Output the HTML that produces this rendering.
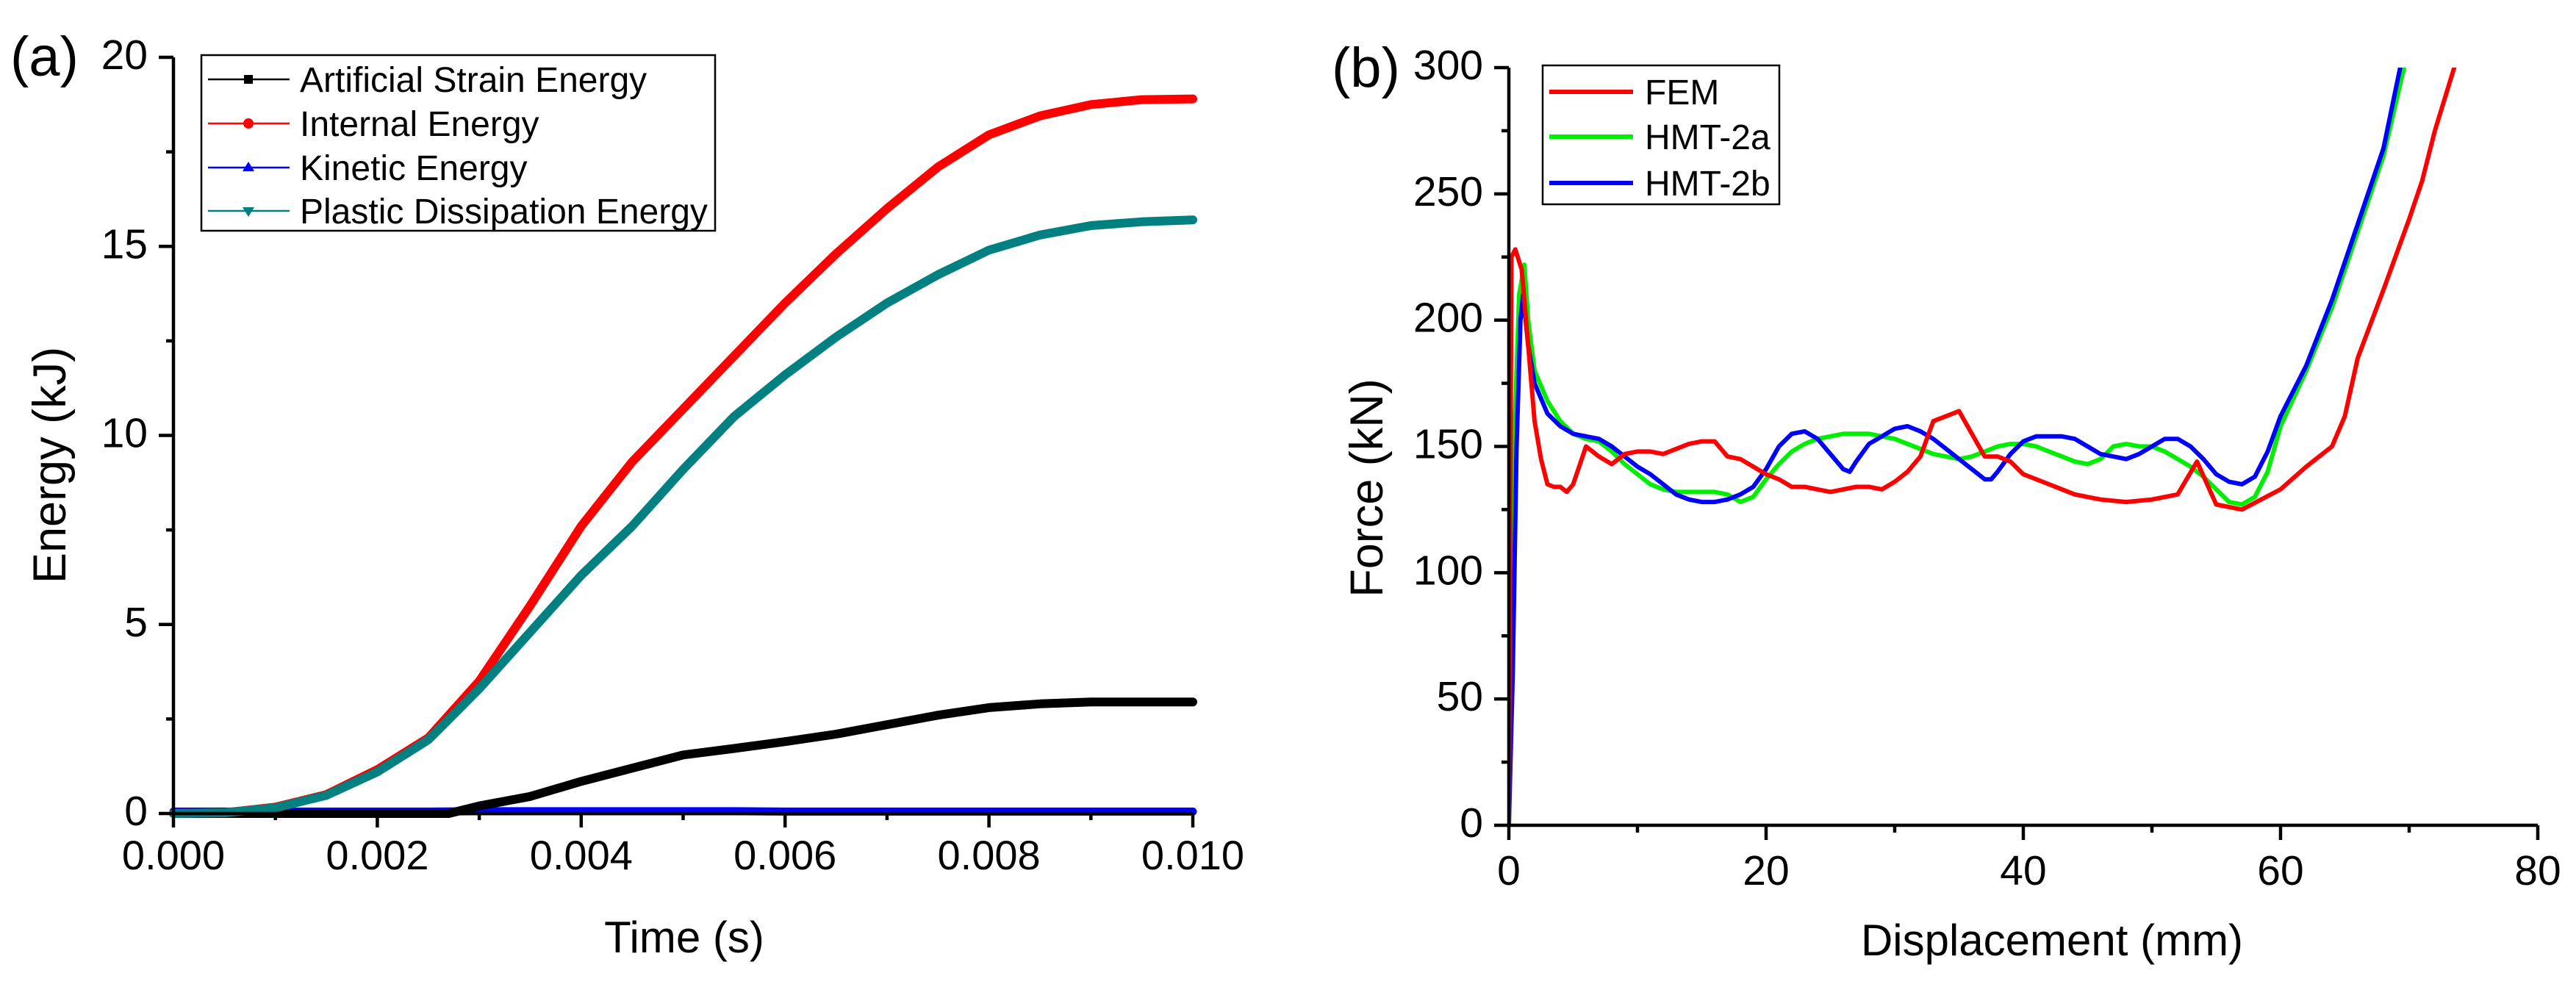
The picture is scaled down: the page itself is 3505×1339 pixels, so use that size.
<!DOCTYPE html>
<html><head><meta charset="utf-8"><style>
html,body{margin:0;padding:0;background:#fff;}
svg{display:block;font-family:"Liberation Sans",Arial,sans-serif;}
</style></head><body>
<svg id="fig" width="3505" height="1339" viewBox="0 0 3505 1339" xmlns="http://www.w3.org/2000/svg">
<g id="pa"></g>
<g id="pb"></g>
</svg>
<script>
// ---- chart (a) data ----
const aTime = [0,0.0005,0.001,0.0015,0.002,0.0025,0.003,0.0035,0.004,0.0045,0.005,0.0055,0.006,0.0065,0.007,0.0075,0.008,0.0085,0.009,0.0095,0.010];
const aInternal = [0,0.02,0.17,0.5,1.16,2.0,3.5,5.5,7.6,9.3,10.7,12.1,13.5,14.8,16.0,17.1,17.95,18.45,18.75,18.88,18.9];
const aPlastic = [0,0.02,0.15,0.48,1.1,1.95,3.3,4.8,6.3,7.6,9.1,10.5,11.6,12.6,13.5,14.25,14.9,15.3,15.55,15.65,15.7];
const aArtificialT = [0,0.0027,0.003,0.0035,0.004,0.0045,0.005,0.0055,0.006,0.0065,0.007,0.0075,0.008,0.0085,0.009,0.0095,0.010];
const aArtificial = [0,0,0.2,0.45,0.85,1.2,1.55,1.72,1.9,2.1,2.35,2.6,2.8,2.9,2.95,2.95,2.95];
const aKinetic = [0.05,0.05,0.05,0.05,0.05,0.05,0.06,0.06,0.06,0.06,0.06,0.06,0.05,0.05,0.05,0.05,0.05,0.05,0.05,0.05,0.05];
const aXTicks = ["0.000","0.002","0.004","0.006","0.008","0.010"];
const aYTicks = ["0","5","10","15","20"];

// ---- chart (b) data ----
const femX = [0,0.2,0.5,1,1.5,2,2.5,3,3.5,4,4.5,5,6,7,8,9,10,11,12,13,14,15,16,17,18,19,20,21,22,23,24,25,26,27,28,29,30,31,32,33,34,35,36,37,38,39,40,42,44,46,48,50,52,53.5,55,57,60,62,64,65,66,68,70,71,72,73.5];
const femY = [0,225,228,220,190,160,145,135,134,134,132,135,150,146,143,147,148,148,147,149,151,152,152,146,145,142,139,137,134,134,133,132,133,134,134,133,136,140,146,160,162,164,155,146,146,144,139,135,131,129,128,129,131,144,127,125,133,142,150,162,185,212,240,255,275,300];
const hmtaX = [0,0.4,0.8,1.2,1.5,2,3,4,5,6,7,8,9,10,11,12,13,14,15,16,17,18,19,20,21,22,23,24,25,26,27,28,29,30,31,32,33,34,35,36,37,38,39,40,41,42,43,44,45,46,47,48,49,50,51,52,53,54,55,56,57,58,59,60,62,64,66,68,69.6];
const hmtaY = [0,150,210,222,200,180,168,160,155,153,152,148,143,139,135,133,132,132,132,132,131,128,130,137,143,148,151,153,154,155,155,155,154,153,151,149,147,146,145,146,148,150,151,151,150,148,146,144,143,145,150,151,150,150,148,145,142,138,133,128,127,130,140,158,180,205,235,265,300];
const hmtbX = [0,0.3,0.6,0.9,1.1,1.5,2,3,4,5,6,7,8,9,10,11,12,13,14,15,16,17,18,19,20,21,22,23,24,25,26,26.5,27,28,29,30,31,32,33,34,35,36,37,37.5,38,39,40,41,42,43,44,45,46,47,48,49,50,51,52,53,54,55,56,57,58,59,60,62,64,66,68,69.3];
const hmtbY = [0,60,150,200,210,190,175,163,158,155,154,153,150,146,142,139,135,131,129,128,128,129,131,134,141,150,155,156,153,147,141,140,144,151,154,157,158,156,153,149,145,141,137,137,140,147,152,154,154,154,153,150,147,146,145,147,150,153,153,150,145,139,136,135,138,148,162,182,208,238,268,300];
const bXTicks = ["0","20","40","60","80"];
const bYTicks = ["0","50","100","150","200","250","300"];

const NS = "http://www.w3.org/2000/svg";
function mk(parent, tag, attrs, text) {
  const e = document.createElementNS(NS, tag);
  for (const k in attrs) e.setAttribute(k, attrs[k]);
  if (text !== undefined) e.textContent = text;
  parent.appendChild(e);
  return e;
}

// ---------- chart (a) ----------
const ga = document.getElementById('pa');
const axL = 236, axR = 1623, ayB = 1107, ayT = 78;
const ax = t => axL + (t / 0.010) * (axR - axL);
const ay = v => ayB - (v / 20) * (ayB - ayT);

function seriesPath(g, xs, ys, xf, yf, color, w, name) {
  let d = '';
  for (let i = 0; i < xs.length; i++) d += (i ? 'L' : 'M') + xf(xs[i]).toFixed(1) + ',' + yf(ys[i]).toFixed(1);
  const p = mk(g, 'path', {d: d, fill: 'none', stroke: color, 'stroke-width': w, 'stroke-linejoin': 'round', 'stroke-linecap': 'round'});
  
  
  return p;
}

seriesPath(ga, aTime, aKinetic, ax, ay, '#0000ff', 11, 'kinetic-energy-line');
seriesPath(ga, aArtificialT, aArtificial, ax, ay, '#000000', 12, 'artificial-strain-energy-line');
seriesPath(ga, aTime, aInternal, ax, ay, '#ff0000', 12, 'internal-energy-line');
seriesPath(ga, aTime, aPlastic, ax, ay, '#008080', 12, 'plastic-dissipation-energy-line');

// axes a
const axisA = mk(ga, 'path', {d: `M${axL},${ayT}V${ayB}H${axR}`, fill: 'none', stroke: '#000', 'stroke-width': 4.5});


aXTicks.forEach((lab, i) => {
  const x = ax(parseFloat(lab));
  mk(ga, 'line', {x1: x, x2: x, y1: ayB, y2: ayB + 19, stroke: '#000', 'stroke-width': 4.5});
  if (i < aXTicks.length - 1) {
    const xm = ax(parseFloat(lab) + 0.001);
    mk(ga, 'line', {x1: xm, x2: xm, y1: ayB, y2: ayB + 9, stroke: '#000', 'stroke-width': 4.5});
  }
  const t = mk(ga, 'text', {x: x, y: 1183, 'font-size': 56, 'text-anchor': 'middle'}, lab);
  
  
});
aYTicks.forEach((lab, i) => {
  const y = ay(parseFloat(lab));
  mk(ga, 'line', {x1: axL - 20, x2: axL, y1: y, y2: y, stroke: '#000', 'stroke-width': 4.5});
  if (i < aYTicks.length - 1) {
    const ym = ay(parseFloat(lab) + 2.5);
    mk(ga, 'line', {x1: axL - 10, x2: axL, y1: ym, y2: ym, stroke: '#000', 'stroke-width': 4.5});
  }
  const t = mk(ga, 'text', {x: 201, y: y + 16, 'font-size': 57, 'text-anchor': 'end'}, lab);
  
  
});
let tt = mk(ga, 'text', {x: 931, y: 1296, 'font-size': 60, 'text-anchor': 'middle'}, 'Time (s)');


tt = mk(ga, 'text', {x: 0, y: 0, 'font-size': 63, 'text-anchor': 'middle', transform: 'translate(89,633) rotate(-90)'}, 'Energy (kJ)');


tt = mk(ga, 'text', {x: 14, y: 103, 'font-size': 76}, '(a)');



// legend a
const legA = mk(ga, 'g', {});


mk(legA, 'rect', {x: 274, y: 75, width: 699, height: 239, fill: '#fff', stroke: '#000', 'stroke-width': 2.5});
const legAItems = [['Artificial Strain Energy', '#000000', 'sq', 108], ['Internal Energy', '#ff0000', 'ci', 168], ['Kinetic Energy', '#0000ff', 'up', 228], ['Plastic Dissipation Energy', '#008080', 'dn', 287]];
legAItems.forEach(it => {
  const g = mk(legA, 'g', {});
  
  
  const y = it[3];
  mk(g, 'line', {x1: 283, x2: 394, y1: y, y2: y, stroke: it[1], 'stroke-width': 2.5});
  const cx = 338;
  if (it[2] === 'sq') mk(g, 'rect', {x: cx - 6, y: y - 6, width: 12, height: 12, fill: it[1]});
  if (it[2] === 'ci') mk(g, 'circle', {cx: cx, cy: y, r: 7, fill: it[1]});
  if (it[2] === 'up') mk(g, 'path', {d: `M${cx},${y - 8}L${cx + 8},${y + 5}L${cx - 8},${y + 5}Z`, fill: it[1]});
  if (it[2] === 'dn') mk(g, 'path', {d: `M${cx},${y + 8}L${cx + 8},${y - 5}L${cx - 8},${y - 5}Z`, fill: it[1]});
  mk(g, 'text', {x: 408, y: y + 17, 'font-size': 48}, it[0]);
});

// ---------- chart (b) ----------
const gb = document.getElementById('pb');
const bxL = 2053, bxR = 3453, byB = 1123, byT = 92;
const bx = v => bxL + (v / 80) * (bxR - bxL);
const by = v => byB - (v / 300) * (byB - byT);

const clipB = mk(gb, 'clipPath', {id: 'clipb'});
mk(clipB, 'rect', {x: bxL, y: byT, width: bxR - bxL, height: byB - byT + 5});
const curves = mk(gb, 'g', {'clip-path': 'url(#clipb)'});
seriesPath(curves, hmtaX, hmtaY, bx, by, '#00ee00', 6, 'hmt-2a-line');
seriesPath(curves, hmtbX, hmtbY, bx, by, '#0000ff', 6, 'hmt-2b-line');
seriesPath(curves, femX, femY, bx, by, '#ff0000', 6, 'fem-line');

const axisB = mk(gb, 'path', {d: `M${bxL},${byT}V${byB}H${bxR}`, fill: 'none', stroke: '#000', 'stroke-width': 4.5});


bXTicks.forEach((lab, i) => {
  const x = bx(parseFloat(lab));
  mk(gb, 'line', {x1: x, x2: x, y1: byB, y2: byB + 20, stroke: '#000', 'stroke-width': 4.5});
  if (i < bXTicks.length - 1) {
    const xm = bx(parseFloat(lab) + 10);
    mk(gb, 'line', {x1: xm, x2: xm, y1: byB, y2: byB + 10, stroke: '#000', 'stroke-width': 4.5});
  }
  const t = mk(gb, 'text', {x: x, y: 1204, 'font-size': 57, 'text-anchor': 'middle'}, lab);
  
  
});
bYTicks.forEach((lab, i) => {
  const y = by(parseFloat(lab));
  mk(gb, 'line', {x1: bxL - 20, x2: bxL, y1: y, y2: y, stroke: '#000', 'stroke-width': 4.5});
  if (i < bYTicks.length - 1) {
    const ym = by(parseFloat(lab) + 25);
    mk(gb, 'line', {x1: bxL - 10, x2: bxL, y1: ym, y2: ym, stroke: '#000', 'stroke-width': 4.5});
  }
  const t = mk(gb, 'text', {x: 2018, y: y + 16, 'font-size': 57, 'text-anchor': 'end'}, lab);
  
  
});
tt = mk(gb, 'text', {x: 2792, y: 1300, 'font-size': 60, 'text-anchor': 'middle'}, 'Displacement (mm)');


tt = mk(gb, 'text', {x: 0, y: 0, 'font-size': 63, 'text-anchor': 'middle', transform: 'translate(1881,664) rotate(-90)'}, 'Force (kN)');


tt = mk(gb, 'text', {x: 1812, y: 118, 'font-size': 76}, '(b)');



const legB = mk(gb, 'g', {});


mk(legB, 'rect', {x: 2099, y: 89, width: 322, height: 189, fill: '#fff', stroke: '#000', 'stroke-width': 2.5});
const legBItems = [['FEM', '#ff0000', 125], ['HMT-2a', '#00ee00', 186], ['HMT-2b', '#0000ff', 249]];
legBItems.forEach(it => {
  const g = mk(legB, 'g', {});
  
  
  mk(g, 'line', {x1: 2108, x2: 2222, y1: it[2], y2: it[2], stroke: it[1], 'stroke-width': 6});
  mk(g, 'text', {x: 2238, y: it[2] + 17, 'font-size': 48}, it[0]);
});
</script>
</body></html>
